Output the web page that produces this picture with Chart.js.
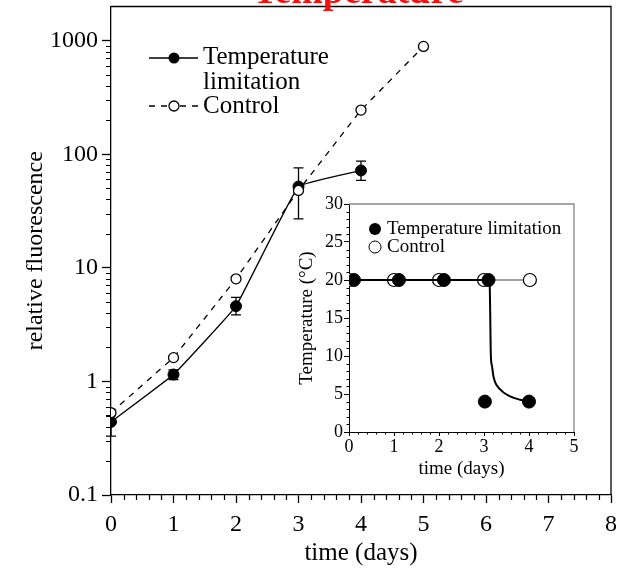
<!DOCTYPE html>
<html>
<head>
<meta charset="utf-8">
<script src="https://cdn.jsdelivr.net/npm/chart.js@4.4.0/dist/chart.umd.min.js"></script>
<style>
html, body { margin: 0; padding: 0; background: #fff; }
#wrap { position: relative; width: 619px; height: 572px; }
#mainChart { position: absolute; left: 0; top: 0; }
#insetChart { position: absolute; left: 270px; top: 190px; }
</style>
</head>
<body>
<div id="wrap">
  <canvas id="mainChart" width="619" height="572"></canvas>
  <canvas id="insetChart" width="320" height="290"></canvas>
</div>
<script>
// main panel: fluorescence (log scale)
const days = [0, 1, 2, 3, 4];
const limitationFluor = [0.44, 1.15, 4.6, 52, 72];
const limitationLow = [0.33, 1.04, 3.85, 27, 59];
const limitationHigh = [0.5, 1.26, 5.5, 76, 87];
const controlDays = [0, 1, 2, 3, 4, 5];
const controlFluor = [0.53, 1.62, 8.0, 48, 245, 890];
const dayTicks = [0, 1, 2, 3, 4, 5, 6, 7, 8];
const dayMinor = [0.2, 0.4, 0.6, 0.8, 1.2, 1.4, 1.6, 1.8, 2.2, 2.4, 2.6, 2.8, 3.2, 3.4, 3.6, 3.8,
                  4.2, 4.4, 4.6, 4.8, 5.2, 5.4, 5.6, 5.8, 6.2, 6.4, 6.6, 6.8, 7.2, 7.4, 7.6, 7.8];
const fluorTicks = [0.1, 1, 10, 100, 1000];
const fluorMinor = [0.2, 0.3, 0.4, 0.5, 0.6, 0.7, 0.8, 0.9, 2, 3, 4, 5, 6, 7, 8, 9,
                    20, 30, 40, 50, 60, 70, 80, 90, 200, 300, 400, 500, 600, 700, 800, 900];

// inset: temperature
const insetControlDays = [0, 1, 2, 3, 4.02];
const insetControlTemp = [20, 20, 20, 20, 20];
const insetLimitDays = [0.11, 1.11, 2.11, 3.1, 3.02, 4.0];
const insetLimitTemp = [20, 20, 20, 20, 4, 4];
const curveDays = [0, 3.12, 3.13, 3.14, 3.15, 3.18, 3.21, 3.36, 3.58, 3.8, 4.0];
const curveTemp = [20, 20, 18.7, 14.8, 10.4, 8.6, 7.3, 5.6, 4.7, 4.25, 4.0];
const insetDayTicks = [0, 1, 2, 3, 4, 5];
const insetDayMinor = [0.2, 0.4, 0.6, 0.8, 1.2, 1.4, 1.6, 1.8, 2.2, 2.4, 2.6, 2.8,
                       3.2, 3.4, 3.6, 3.8, 4.2, 4.4, 4.6, 4.8];
const tempTicks = [0, 5, 10, 15, 20, 25, 30];
const tempMinor = [1, 2, 3, 4, 6, 7, 8, 9, 11, 12, 13, 14, 16, 17, 18, 19, 21, 22, 23, 24, 26, 27, 28, 29];

const SERIF = "'Liberation Serif', 'DejaVu Serif', serif";

function pts(xs, ys) {
    return xs.map((x, i) => ({ x: x, y: ys[i] }));
}

function setTicks(list) {
    return scale => { scale.ticks = list.map(v => ({ value: v })); };
}

// fixed axis size, no extra label padding around the plot
function fitTo(size) {
    return scale => {
        if (scale.isHorizontal()) scale.height = size;
        else scale.width = size;
        scale.paddingTop = 0;
        scale.paddingBottom = 0;
        scale.paddingLeft = 0;
        scale.paddingRight = 0;
    };
}

// minor ticks, pointing outward from left and bottom axes
function minorTicks(id, xMinor, yMinor, len, width) {
    return {
        id: id,
        afterDraw(chart) {
            const { ctx, chartArea, scales: { x, y } } = chart;
            ctx.save();
            ctx.strokeStyle = "#000";
            ctx.lineWidth = width;
            ctx.beginPath();
            xMinor.forEach(v => {
                const px = Math.round(x.getPixelForValue(v)) + 0.5;
                ctx.moveTo(px, chartArea.bottom);
                ctx.lineTo(px, chartArea.bottom + len);
            });
            yMinor.forEach(v => {
                const py = Math.round(y.getPixelForValue(v)) + 0.5;
                ctx.moveTo(chartArea.left, py);
                ctx.lineTo(chartArea.left - len, py);
            });
            ctx.stroke();
            ctx.restore();
        }
    };
}

function frame(id, color, width) {
    return {
        id: id,
        afterDraw(chart) {
            const { ctx, chartArea: a } = chart;
            ctx.save();
            ctx.strokeStyle = color;
            ctx.lineWidth = width;
            ctx.beginPath();
            ctx.moveTo(a.left, a.top);
            ctx.lineTo(a.right, a.top);
            ctx.lineTo(a.right, a.bottom);
            ctx.stroke();
            ctx.restore();
        }
    };
}

const errorBars = {
    id: "errorBars",
    beforeDatasetsDraw(chart) {
        const { ctx, scales: { x, y } } = chart;
        ctx.save();
        ctx.strokeStyle = "#000";
        ctx.lineWidth = 1.3;
        ctx.beginPath();
        days.forEach((d, i) => {
            const px = x.getPixelForValue(d);
            const top = y.getPixelForValue(limitationHigh[i]);
            const bot = y.getPixelForValue(limitationLow[i]);
            ctx.moveTo(px, top); ctx.lineTo(px, bot);
            ctx.moveTo(px - 5, top); ctx.lineTo(px + 5, top);
            ctx.moveTo(px - 5, bot); ctx.lineTo(px + 5, bot);
        });
        ctx.stroke();
        ctx.restore();
    }
};

const mainDecor = {
    id: "mainDecor",
    afterDraw(chart) {
        const ctx = chart.ctx;
        ctx.save();
        // cropped red title
        ctx.fillStyle = "#f01010";
        ctx.font = "bold 38px " + SERIF;
        ctx.textAlign = "center";
        ctx.textBaseline = "alphabetic";
        ctx.fillText("Temperature", 358, 3);

        // legend
        ctx.strokeStyle = "#000";
        ctx.fillStyle = "#000";
        ctx.lineWidth = 1.3;
        ctx.beginPath();
        ctx.moveTo(149, 58); ctx.lineTo(198, 58);
        ctx.stroke();
        ctx.beginPath();
        ctx.arc(174, 58, 5.5, 0, Math.PI * 2);
        ctx.fill();

        ctx.setLineDash([6, 6]);
        ctx.beginPath();
        ctx.moveTo(149, 106); ctx.lineTo(168, 106);
        ctx.moveTo(180, 106); ctx.lineTo(199, 106);
        ctx.stroke();
        ctx.setLineDash([]);
        ctx.fillStyle = "#fff";
        ctx.beginPath();
        ctx.arc(174, 106, 5, 0, Math.PI * 2);
        ctx.fill();
        ctx.stroke();

        ctx.fillStyle = "#000";
        ctx.font = "25px " + SERIF;
        ctx.textAlign = "left";
        ctx.fillText("Temperature", 203, 64);
        ctx.fillText("limitation", 203, 89);
        ctx.fillText("Control", 203, 113);
        ctx.restore();
    }
};

new Chart(document.getElementById("mainChart"), {
    type: "line",
    data: {
        datasets: [
            {
                label: "Temperature limitation",
                data: pts(days, limitationFluor),
                borderColor: "#000",
                borderWidth: 1.3,
                pointRadius: 5.5,
                pointBackgroundColor: "#000",
                pointBorderColor: "#000",
                pointBorderWidth: 1,
                tension: 0.08,
                order: 1
            },
            {
                label: "Control",
                data: pts(controlDays, controlFluor),
                borderColor: "#000",
                borderWidth: 1.3,
                borderDash: [6, 6],
                pointRadius: 5,
                pointBackgroundColor: "#fff",
                pointBorderColor: "#000",
                pointBorderWidth: 1.3,
                tension: 0,
                order: 0
            }
        ]
    },
    options: {
        responsive: false,
        animation: false,
        layout: { padding: { top: 5, right: 8, left: 0, bottom: 0 } },
        plugins: { legend: { display: false }, tooltip: { enabled: false } },
        scales: {
            x: {
                type: "linear",
                min: 0,
                max: 8,
                afterBuildTicks: setTicks(dayTicks),
                afterFit: fitTo(77),
                ticks: { color: "#000", font: { family: SERIF, size: 24 }, padding: 7, maxRotation: 0 },
                grid: { drawOnChartArea: false, tickLength: 8, tickColor: "#000", tickWidth: 1.3 },
                border: { color: "#000", width: 1.3 },
                title: { display: true, text: "time (days)", color: "#000",
                         font: { family: SERIF, size: 25 }, padding: { top: 0 } }
            },
            y: {
                type: "logarithmic",
                min: 0.1,
                max: 2000,
                afterBuildTicks: setTicks(fluorTicks),
                afterFit: fitTo(111),
                ticks: { color: "#000", font: { family: SERIF, size: 24 }, padding: 4,
                         callback: v => String(v) },
                grid: { drawOnChartArea: false, tickLength: 9, tickColor: "#000", tickWidth: 1.3 },
                border: { color: "#000", width: 1.3 },
                title: { display: true, text: "relative fluorescence", color: "#000",
                         font: { family: SERIF, size: 24 }, padding: { bottom: 0, top: 21 } }
            }
        }
    },
    plugins: [errorBars, minorTicks("mainMinor", dayMinor, fluorMinor, 5, 1.2),
              frame("mainFrame", "#000", 1.3), mainDecor]
});

const insetLegend = {
    id: "insetLegend",
    afterDraw(chart) {
        const ctx = chart.ctx;
        ctx.save();
        ctx.fillStyle = "#000";
        ctx.strokeStyle = "#000";
        ctx.lineWidth = 1;
        ctx.beginPath();
        ctx.arc(105, 39, 6, 0, Math.PI * 2);
        ctx.fill();
        ctx.fillStyle = "#fff";
        ctx.beginPath();
        ctx.arc(105, 57, 6, 0, Math.PI * 2);
        ctx.fill();
        ctx.stroke();
        ctx.fillStyle = "#000";
        ctx.font = "19px " + SERIF;
        ctx.textAlign = "left";
        ctx.textBaseline = "middle";
        ctx.fillText("Temperature limitation", 117, 39);
        ctx.fillText("Control", 117, 57);
        ctx.restore();
    }
};

new Chart(document.getElementById("insetChart"), {
    type: "line",
    data: {
        datasets: [
            {
                label: "Temperature limitation curve",
                data: pts(curveDays, curveTemp),
                borderColor: "#000",
                borderWidth: 2,
                pointRadius: 0,
                cubicInterpolationMode: "monotone",
                order: 2
            },
            {
                label: "Control",
                data: pts(insetControlDays, insetControlTemp),
                borderColor: "#808080",
                borderWidth: 1.5,
                pointRadius: 6.5,
                pointBackgroundColor: "#fff",
                pointBorderColor: "#000",
                pointBorderWidth: 1.2,
                tension: 0,
                order: 3
            },
            {
                label: "Temperature limitation",
                data: pts(insetLimitDays, insetLimitTemp),
                showLine: false,
                pointRadius: 6.5,
                pointBackgroundColor: "#000",
                pointBorderColor: "#000",
                pointBorderWidth: 1,
                order: 1
            }
        ]
    },
    options: {
        responsive: false,
        animation: false,
        layout: { padding: { top: 14, right: 16, left: 0, bottom: 0 } },
        plugins: { legend: { display: false }, tooltip: { enabled: false } },
        scales: {
            x: {
                type: "linear",
                min: 0,
                max: 5,
                afterBuildTicks: setTicks(insetDayTicks),
                afterFit: fitTo(48),
                ticks: { color: "#000", font: { family: SERIF, size: 18 }, padding: 0, maxRotation: 0 },
                grid: { drawOnChartArea: false, tickLength: 4, tickColor: "#000", tickWidth: 1 },
                border: { color: "#000", width: 1 },
                title: { display: true, text: "time (days)", color: "#000",
                         font: { family: SERIF, size: 19 }, padding: 0 }
            },
            y: {
                type: "linear",
                min: 0,
                max: 30,
                afterBuildTicks: setTicks(tempTicks),
                afterFit: fitTo(79),
                ticks: { color: "#000", font: { family: SERIF, size: 18 }, padding: 1 },
                grid: { drawOnChartArea: false, tickLength: 5, tickColor: "#000", tickWidth: 1 },
                border: { color: "#000", width: 1 },
                title: { display: true, text: "Temperature (°C)", color: "#000",
                         font: { family: SERIF, size: 19 }, padding: { top: 26, bottom: 0 } }
            }
        }
    },
    plugins: [minorTicks("insetMinor", insetDayMinor, tempMinor, 2.5, 1),
              frame("insetFrame", "#888", 1.3), insetLegend]
});
</script>
</body>
</html>
